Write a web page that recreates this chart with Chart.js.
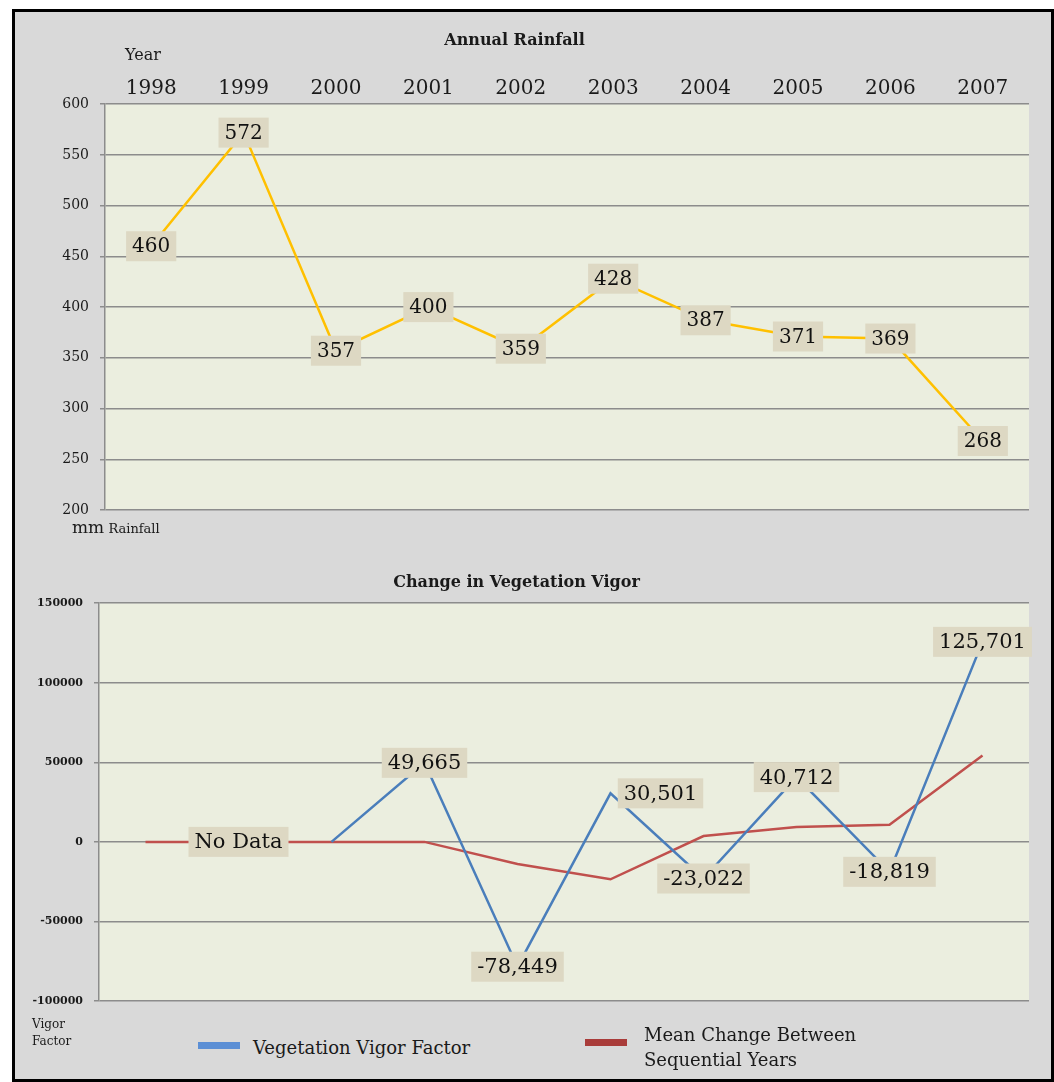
<!DOCTYPE html>
<html>
<head>
<meta charset="utf-8">
<script src="https://cdn.jsdelivr.net/npm/chart.js@4"></script>
<style>
  html, body { margin: 0; padding: 0; background: #fff; overflow: hidden; }
  body { width: 1054px; height: 1082px; position: relative; font-family: 'DejaVu Serif', serif; color: #1a1a1a; }
  #frame { position: absolute; left: 12px; top: 9px; width: 1042px; height: 1073px; box-sizing: border-box;
           border: 3px solid #000; background: #d9d9d9; }
  canvas { position: absolute; }
  #rainChart { left: 0; top: 0; }
  #vigorChart { left: 4px; top: 545px; }
  .txt { position: absolute; white-space: nowrap; }
  .swatch { position: absolute; width: 42px; height: 7px; }
</style>
</head>
<body>
<div id="frame"></div>
<canvas id="rainChart" width="1037" height="545"></canvas>
<canvas id="vigorChart" width="1050" height="490"></canvas>
<div class="txt" style="left:125px;top:45px;font-size:16px;line-height:20px;">Year</div>
<div class="txt" style="left:72px;top:517px;line-height:20px;"><span style="font-size:17px">mm</span><span style="font-size:13px"> Rainfall</span></div>
<div class="txt" style="left:32px;top:1016px;font-size:12px;line-height:17px;">Vigor<br>Factor</div>
<div id="legend"></div>
<script>
const years = ['1998', '1999', '2000', '2001', '2002', '2003', '2004', '2005', '2006', '2007'];
const rainfall = [460, 572, 357, 400, 359, 428, 387, 371, 369, 268];
const rainTicks = { min: 200, max: 600, step: 50 };

const vigorFactor = [null, null, 0, 49665, -78449, 30501, -23022, 40712, -18819, 125701];
const vigorLabels = ['', 'No Data', '', '49,665', '-78,449', '30,501', '-23,022', '40,712', '-18,819', '125,701'];
const meanChange = [0, 0, 0, 0, -13900, -23500, 3700, 9400, 10700, 54300];
const vigorTicks = { min: -100000, max: 150000, step: 50000 };
const seriesNames = ['Vegetation Vigor Factor', 'Mean Change Between\nSequential Years'];

const GRID = '#8c8c8c';
const PLOT_BG = '#ebeedf';
const BOX_BG = '#ddd8c3';

// fills the plot area
const plotBg = {
    id: 'plotBg',
    beforeDraw(chart) {
        const { ctx, chartArea: a } = chart;
        ctx.save();
        ctx.fillStyle = PLOT_BG;
        ctx.fillRect(a.left, a.top, a.right - a.left, a.bottom - a.top);
        ctx.restore();
    },
};

// tan boxes with the value printed over each point
const boxLabels = {
    id: 'boxLabels',
    afterDatasetsDraw(chart, args, opts) {
        const { ctx } = chart;
        const meta = chart.getDatasetMeta(opts.datasetIndex);
        const data = chart.data.datasets[opts.datasetIndex].data;
        const yScale = chart.scales.y;
        ctx.save();
        ctx.font = opts.font;
        ctx.textAlign = 'center';
        ctx.textBaseline = 'middle';
        opts.labels.forEach((text, i) => {
            if (!text) return;
            const pt = meta.data[i];
            const x = pt.x;
            const y = data[i] === null ? yScale.getPixelForValue(0) : pt.y;
            const w = ctx.measureText(text).width + 12;
            const h = opts.boxHeight;
            let cx = x;
            if (opts.shiftRight && opts.shiftRight[i]) cx = x + opts.shiftRight[i];
            ctx.fillStyle = BOX_BG;
            ctx.fillRect(cx - w / 2, y - h / 2, w, h);
            ctx.fillStyle = '#111';
            ctx.fillText(text, cx, y + 1);
        });
        ctx.restore();
    },
};

const yGrid = { color: GRID, lineWidth: 1.5, tickLength: 5, tickColor: GRID };

new Chart(document.getElementById('rainChart'), {
    type: 'line',
    data: {
        labels: years,
        datasets: [{
            data: rainfall,
            borderColor: '#ffc000',
            borderWidth: 2.5,
            pointRadius: 0,
            tension: 0,
        }],
    },
    options: {
        responsive: false,
        animation: false,
        layout: { padding: { left: 0, right: 8, top: 31, bottom: 35 } },
        plugins: {
            legend: { display: false },
            tooltip: { enabled: false },
            title: {
                display: true,
                text: 'Annual Rainfall',
                color: '#1a1a1a',
                font: { family: 'DejaVu Serif', size: 16, weight: 'bold' },
                padding: 0,
            },
            boxLabels: {
                datasetIndex: 0,
                labels: rainfall.map(String),
                font: '20px "DejaVu Serif"',
                boxHeight: 30,
            },
        },
        scales: {
            x: {
                position: 'top',
                offset: true,
                grid: { display: false },
                border: { display: false },
                ticks: { color: '#1a1a1a', font: { family: 'DejaVu Serif', size: 20 }, padding: -5 },
                afterFit: (s) => { s.height = 54; },
            },
            y: {
                min: rainTicks.min,
                max: rainTicks.max,
                grid: yGrid,
                border: { display: true, color: GRID, width: 1.5 },
                ticks: { stepSize: rainTicks.step, color: '#1a1a1a', padding: 11,
                         font: { family: 'DejaVu Serif', size: 14 } },
                afterFit: (s) => { s.width = 105; },
            },
        },
    },
    plugins: [plotBg, boxLabels],
});

new Chart(document.getElementById('vigorChart'), {
    type: 'line',
    data: {
        labels: years,
        datasets: [
            {
                label: seriesNames[0],
                data: vigorFactor,
                borderColor: '#4a7ebb',
                borderWidth: 2.5,
                pointRadius: 0,
                tension: 0,
            },
            {
                label: seriesNames[1],
                data: meanChange,
                borderColor: '#c0504d',
                borderWidth: 2.5,
                pointRadius: 0,
                tension: 0,
            },
        ],
    },
    options: {
        responsive: false,
        animation: false,
        layout: { padding: { left: 0, right: 25, top: 28, bottom: 34 } },
        plugins: {
            legend: { display: false },
            tooltip: { enabled: false },
            title: {
                display: true,
                text: 'Change in Vegetation Vigor',
                color: '#1a1a1a',
                font: { family: 'DejaVu Serif', size: 16, weight: 'bold' },
                padding: { top: 0, bottom: 11 },
            },
            boxLabels: {
                datasetIndex: 0,
                labels: vigorLabels,
                font: '21px "DejaVu Serif"',
                boxHeight: 30,
                shiftRight: { 5: 50 },
            },
        },
        scales: {
            x: { display: false, offset: true },
            y: {
                min: vigorTicks.min,
                max: vigorTicks.max,
                grid: yGrid,
                border: { display: true, color: GRID, width: 1.5 },
                ticks: { stepSize: vigorTicks.step, color: '#1a1a1a', padding: 11,
                         font: { family: 'DejaVu Serif', size: 11, weight: 'bold' },
                         callback: (v) => String(v) },
                afterFit: (s) => { s.width = 95; },
            },
        },
    },
    plugins: [plotBg, boxLabels],
});

// legend below the lower chart
const legendSpots = [
    { swatch: [198, 1042], text: [253, 1035], color: '#5b8fd5' },
    { swatch: [585, 1039], text: [644, 1022], color: '#a93c3a' },
];
const legend = document.getElementById('legend');
seriesNames.forEach((name, i) => {
    const s = legendSpots[i];
    const sw = document.createElement('div');
    sw.className = 'swatch';
    sw.style.left = s.swatch[0] + 'px';
    sw.style.top = s.swatch[1] + 'px';
    sw.style.background = s.color;
    legend.appendChild(sw);
    const t = document.createElement('div');
    t.className = 'txt';
    t.style.left = s.text[0] + 'px';
    t.style.top = s.text[1] + 'px';
    t.style.fontSize = '18px';
    t.style.lineHeight = '25px';
    t.innerHTML = name.replace('\n', '<br>');
    legend.appendChild(t);
});
</script>
</body>
</html>
